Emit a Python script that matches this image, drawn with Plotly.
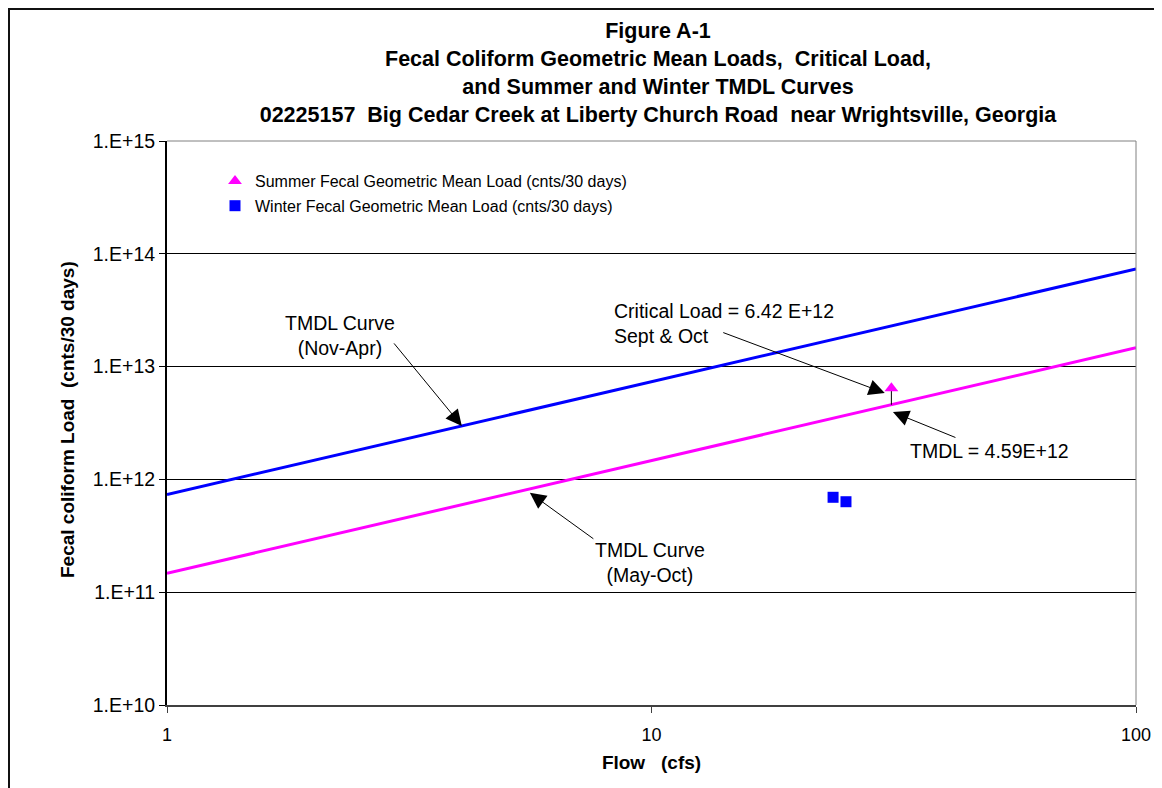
import plotly.graph_objects as go
import math

# ---- data ----
tmdl_flow = [1, 100]                       # cfs
winter_tmdl = [7.34e11, 7.34e13]           # cnts/30 days (Nov-Apr)
summer_tmdl = [1.47e11, 1.47e13]           # cnts/30 days (May-Oct)

summer_flow = [31.27]
summer_load = [6.42e12]                    # critical load, Sept & Oct
winter_flow = [23.7, 25.2]
winter_load = [6.94e11, 6.34e11]

critical_flow = 31.27
critical_load = 6.42e12
tmdl_value = 4.59e12

y_ticks = [1e10, 1e11, 1e12, 1e13, 1e14, 1e15]
y_ticktext = ["1.E+10", "1.E+11", "1.E+12", "1.E+13", "1.E+14", "1.E+15"]
x_ticks = [1, 10, 100]
x_ticktext = ["1", "10", "100"]

FONT = "Liberation Sans, Arial, sans-serif"
NB = "\u00a0"
OFF = 8  # page body margin

fig = go.Figure()

fig.add_trace(go.Scatter(x=tmdl_flow, y=winter_tmdl, mode="lines",
                         line=dict(color="#0000FF", width=3), showlegend=False,
                         name="TMDL Curve (Nov-Apr)"))
fig.add_trace(go.Scatter(x=tmdl_flow, y=summer_tmdl, mode="lines",
                         line=dict(color="#FF00FF", width=3), showlegend=False,
                         name="TMDL Curve (May-Oct)"))
fig.add_trace(go.Scatter(x=[critical_flow, critical_flow], y=[critical_load, tmdl_value],
                         mode="lines", line=dict(color="black", width=1), showlegend=False))
fig.add_trace(go.Scatter(x=summer_flow, y=summer_load, mode="markers",
                         marker=dict(symbol="triangle-up", color="#FF00FF", size=12),
                         name="Summer Fecal Geometric Mean Load (cnts/30 days)",
                         legendgroup="s"))
fig.add_trace(go.Scatter(x=winter_flow, y=winter_load, mode="markers",
                         marker=dict(symbol="square", color="#0000FF", size=11),
                         name="Winter Fecal Geometric Mean Load (cnts/30 days)",
                         legendgroup="w"))

FW, FH = 1162 - OFF, 788 - OFF
L, T, R, B = 167 - OFF, 141 - OFF, 1136 - OFF, 705 - OFF
W, H = R - L, B - T


def px(xp):
    return (xp - OFF - L) / W


def py(yp):
    return (B - (yp - OFF)) / H


ann = []
ann.append(dict(xref="paper", yref="paper", x=px(340), y=py(335), text="TMDL Curve<br>(Nov-Apr)",
                showarrow=False, align="center", xanchor="center", yanchor="middle"))
ann.append(dict(xref="paper", yref="paper", x=px(612), y=py(323),
                text="Critical Load = 6.42 E+12<br>Sept & Oct",
                showarrow=False, align="left", xanchor="left", yanchor="middle"))
ann.append(dict(xref="paper", yref="paper", x=px(908), y=py(451), text="TMDL = 4.59E+12",
                showarrow=False, align="left", xanchor="left", yanchor="middle"))
ann.append(dict(xref="paper", yref="paper", x=px(650), y=py(562), text="TMDL Curve<br>(May-Oct)",
                showarrow=False, align="center", xanchor="center", yanchor="middle"))

arrow_style = dict(text="", showarrow=True, arrowhead=2, arrowsize=3.2, arrowwidth=1,
                   arrowcolor="black", xref="x", yref="y")
ann.append(dict(x=math.log10(4.06), y=math.log10(2.98e12), ax=-69, ay=-84, **arrow_style))
ann.append(dict(x=math.log10(5.61), y=math.log10(7.6e11), ax=65, ay=47, **arrow_style))
ann.append(dict(x=math.log10(30.3), y=math.log10(5.83e12), ax=-163, ay=-61, **arrow_style))
ann.append(dict(x=math.log10(31.5), y=math.log10(3.95e12), ax=64, ay=26, **arrow_style))

ann.append(dict(xref="paper", yref="paper", x=px(67), y=py(420),
                text="Fecal coliform Load" + NB * 2 + "(cnts/30 days)", textangle=-90,
                showarrow=False, xanchor="center", yanchor="middle",
                font=dict(size=19, weight="bold", color="black")))

shapes = [
    dict(type="rect", xref="paper", yref="paper", x0=px(9), x1=px(1175), y0=py(800), y1=py(9),
         line=dict(color="#111111", width=2), layer="below"),
    dict(type="line", xref="paper", yref="paper", x0=0, x1=1, y0=1, y1=1,
         line=dict(color="#808080", width=1)),
    dict(type="line", xref="paper", yref="paper", x0=1, x1=1, y0=0, y1=1,
         line=dict(color="#808080", width=1)),
]

fig.update_layout(
    width=FW, height=FH,
    margin=dict(l=L, r=FW - R, t=T, b=FH - B),
    paper_bgcolor="white", plot_bgcolor="white",
    font=dict(family=FONT, size=19.5, color="black"),
    title=dict(text="Figure A-1<br>Fecal Coliform Geometric Mean Loads," + NB * 2 + "Critical Load,<br>"
                    "and Summer and Winter TMDL Curves<br>"
                    "02225157" + NB * 2 + "Big Cedar Creek at Liberty Church Road" + NB * 2 +
                    "near Wrightsville, Georgia",
               x=(658 - OFF) / FW, xanchor="center", y=1 - 30 / FH, yanchor="top",
               font=dict(size=21.5, weight="bold", family=FONT, color="black")),
    xaxis=dict(type="log", range=[0, 2], tickvals=x_ticks, ticktext=x_ticktext,
               showgrid=False, zeroline=False, showline=True, linecolor="#404040", linewidth=2,
               ticks="outside", ticklen=6, tickcolor="#404040", tickfont=dict(size=18),
               ticklabelstandoff=6,
               title=dict(text="Flow" + NB * 3 + "(cfs)", font=dict(size=19, weight="bold"),
                          standoff=12)),
    yaxis=dict(type="log", range=[10, 15], tickvals=y_ticks, ticktext=y_ticktext,
               showgrid=True, gridcolor="black", gridwidth=1, zeroline=False,
               showline=True, linecolor="black", linewidth=2,
               ticks="outside", ticklen=6, tickcolor="black", tickfont=dict(size=19.5)),
    legend=dict(x=px(215), y=py(164), xanchor="left", yanchor="top",
                bgcolor="rgba(0,0,0,0)", font=dict(size=16),
                traceorder="grouped", tracegroupgap=1),
    annotations=ann,
    shapes=shapes,
)

fig.write_html("out.html")
